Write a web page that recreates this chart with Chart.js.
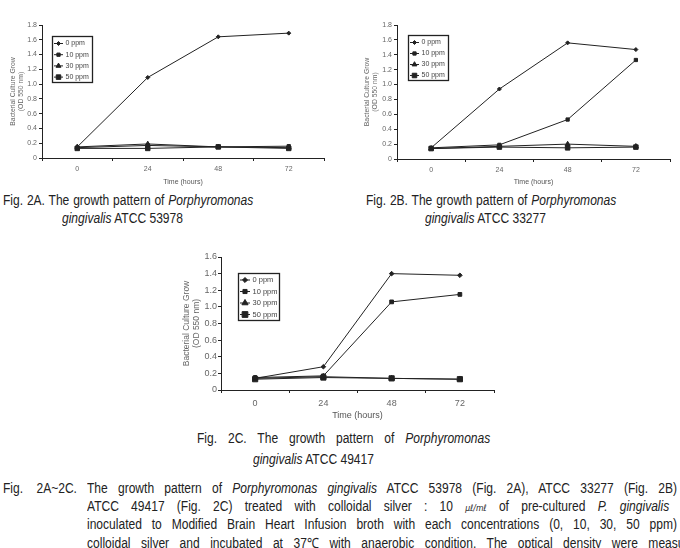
<!DOCTYPE html>
<html>
<head>
<meta charset="utf-8">
<script src="https://cdn.jsdelivr.net/npm/chart.js@4"></script>
<style>
  html, body { margin: 0; padding: 0; background: #fff; }
  body { width: 680px; height: 548px; overflow: hidden; position: relative; }
  canvas { position: absolute; }
  .cap { position: absolute; font-family: "Liberation Sans", sans-serif; font-size: 14px; color: #222;
         line-height: 18px; white-space: nowrap; transform: scaleX(0.86); transform-origin: 0 0; }
  .just { white-space: normal; text-align: justify; text-align-last: justify; height: 18px; }
  .unit { display: inline-block; font-family: "DejaVu Sans", sans-serif; font-size: 9px; font-style: italic; }
  .deg { display: inline-block; }
</style>
</head>
<body>
<canvas id="chartA" style="left:0;top:0"></canvas>
<canvas id="chartB" style="left:340px;top:0"></canvas>
<canvas id="chartC" style="left:170px;top:245px"></canvas>

<div class="cap just" style="left:3px;top:191px;width:291px">Fig. 2A. The growth pattern of <i>Porphyromonas</i></div>
<div class="cap" style="left:62px;top:209px"><i>gingivalis</i> ATCC 53978</div>

<div class="cap just" style="left:366px;top:191px;width:291px">Fig. 2B. The growth pattern of <i>Porphyromonas</i></div>
<div class="cap" style="left:425px;top:209px"><i>gingivalis</i> ATCC 33277</div>

<div class="cap just" style="left:197px;top:429px;width:341px">Fig. 2C. The growth pattern of <i>Porphyromonas</i></div>
<div class="cap" style="left:253px;top:450px"><i>gingivalis</i> ATCC 49417</div>

<div class="cap just" style="left:3px;top:479px;width:86px">Fig. 2A~2C.</div>
<div class="cap just" style="left:87px;top:479px;width:686px">The growth pattern of <i>Porphyromonas gingivalis</i> ATCC 53978 (Fig. 2A), ATCC 33277 (Fig. 2B)</div>
<div class="cap just" style="left:87px;top:497px;width:677px">ATCC 49417 (Fig. 2C) treated with colloidal silver : 10 <span class="unit">μℓ/mℓ</span> of pre-cultured <i>P. gingivalis</i></div>
<div class="cap just" style="left:87px;top:515px;width:686px">inoculated to Modified Brain Heart Infusion broth with each concentrations (0, 10, 30, 50 ppm)</div>
<div class="cap just" style="left:87px;top:534px;width:715px">colloidal silver and incubated at <span class="deg">37℃</span> with anaerobic condition. The optical density were measured</div>

<script>
// time points and series names
var hours = ['0', '24', '48', '72'];
var seriesNames = ['0 ppm', '10 ppm', '30 ppm', '50 ppm'];

// Fig. 2A - ATCC 53978
var a0 = [0.15, 1.09, 1.64, 1.69];
var a10 = [0.14, 0.17, 0.15, 0.16];
var a30 = [0.15, 0.19, 0.15, 0.14];
var a50 = [0.13, 0.13, 0.15, 0.13];

// Fig. 2B - ATCC 33277
var b0 = [0.15, 0.94, 1.56, 1.47];
var b10 = [0.15, 0.19, 0.53, 1.33];
var b30 = [0.14, 0.17, 0.20, 0.17];
var b50 = [0.14, 0.16, 0.15, 0.16];

// Fig. 2C - ATCC 49417
var c0 = [0.14, 0.28, 1.40, 1.38];
var c10 = [0.15, 0.17, 1.06, 1.15];
var c30 = [0.14, 0.16, 0.14, 0.13];
var c50 = [0.13, 0.15, 0.14, 0.13];

var yTitle = ['Bacterial Culture Grow', '(OD 550 nm)'];
var xTitle = 'Time (hours)';

var markers = [
  { style: 'rectRot', r: 2 },
  { style: 'rect', r: 2.3 },
  { style: 'triangle', r: 2.8 },
  { style: 'rect', r: 3.2 }
];

// legend drawn as a boxed key inside the plot, like the spreadsheet original
var boxLegend = {
  id: 'boxLegend',
  afterDraw: function (chart, args, o) {
    var ctx = chart.ctx, area = chart.chartArea;
    var x = Math.round(area.left + o.x), y = Math.round(area.top + o.y);
    ctx.save();
    ctx.fillStyle = '#fff';
    ctx.fillRect(x, y, o.w, o.h);
    ctx.strokeStyle = '#222';
    ctx.lineWidth = 1.3;
    ctx.strokeRect(x + 0.5, y + 0.5, o.w, o.h);
    ctx.lineWidth = 1;
    ctx.font = o.size + 'px "Liberation Sans", sans-serif';
    ctx.textBaseline = 'middle';
    chart.data.datasets.forEach(function (ds, i) {
      var cy = y + o.top + i * o.row;
      ctx.strokeStyle = '#222';
      ctx.beginPath();
      ctx.moveTo(x + 2, cy);
      ctx.lineTo(x + o.line, cy);
      ctx.stroke();
      ctx.fillStyle = '#222';
      Chart.helpers.drawPoint(ctx, {
        pointStyle: ds.pointStyle, radius: ds.pointRadius * o.scale, rotation: 0, borderWidth: 1
      }, x + 2 + (o.line - 2) / 2, cy);
      ctx.fillStyle = '#444';
      ctx.fillText(ds.label, x + o.text, cy);
    });
    ctx.restore();
  }
};

function makeSets(list, scale) {
  return list.map(function (vals, i) {
    return {
      label: seriesNames[i],
      data: vals,
      borderColor: '#222',
      backgroundColor: '#222',
      borderWidth: 1,
      pointStyle: markers[i].style,
      pointRadius: markers[i].r * scale,
      pointBorderWidth: 1,
      tension: 0
    };
  });
}

function makeChart(id, w, h, sets, cfg) {
  var el = document.getElementById(id);
  el.width = w; el.height = h;
  el.style.width = w + 'px'; el.style.height = h + 'px';
  return new Chart(el, {
    type: 'line',
    data: { labels: hours, datasets: sets },
    options: {
      responsive: false,
      animation: false,
      layout: { padding: cfg.pad },
      plugins: {
        legend: { display: false },
        tooltip: { enabled: false },
        boxLegend: cfg.legend
      },
      scales: {
        x: {
          offset: true,
          grid: { offset: true, drawOnChartArea: false, drawTicks: true, tickLength: 3, color: '#222' },
          border: { display: true, color: '#222', width: 1 },
          ticks: { color: '#666', padding: cfg.xPad, maxRotation: 0,
                   font: { family: 'Liberation Sans', size: cfg.tick } },
          title: { display: true, text: xTitle, color: '#555', padding: 0,
                   font: { family: 'Liberation Sans', size: cfg.title, lineHeight: 1.2 } },
          afterFit: function (s) { s.height = cfg.xH; }
        },
        y: {
          min: 0, max: cfg.yMax,
          grid: { drawOnChartArea: false, drawTicks: true, tickLength: 3, color: '#222' },
          border: { display: true, color: '#222', width: 1 },
          ticks: { stepSize: 0.2, color: '#666', padding: cfg.yPad,
                   font: { family: 'Liberation Sans', size: cfg.tick } },
          title: { display: true, text: yTitle, color: '#666', padding: 0,
                   font: { family: 'Liberation Sans', size: cfg.ytitle, lineHeight: 1.15 } },
          afterFit: function (s) { s.width = cfg.yW; }
        }
      }
    },
    plugins: [boxLegend]
  });
}

makeChart('chartA', 340, 186, makeSets([a0, a10, a30, a50], 1), {
  pad: { left: 9, right: 16, top: 25, bottom: 0 },
  yW: 33, xH: 28, yMax: 1.8, tick: 7, title: 7, ytitle: 6.8, xPad: 4, yPad: 2,
  legend: { x: 10, y: 11, w: 40, h: 46, top: 7.5, row: 11.2, line: 11, text: 13.5, size: 7, scale: 1 }
});

makeChart('chartB', 340, 186, makeSets([b0, b10, b30, b50], 1), {
  pad: { left: 23, right: 10, top: 25, bottom: 0 },
  yW: 34, xH: 27, yMax: 1.8, tick: 7, title: 7, ytitle: 6.8, xPad: 4, yPad: 2,
  legend: { x: 11, y: 10, w: 40, h: 45, top: 7.5, row: 11, line: 11, text: 13.5, size: 7, scale: 1 }
});

makeChart('chartC', 340, 176, makeSets([c0, c10, c30, c50], 1.15), {
  pad: { left: 12, right: 16, top: 12, bottom: 0 },
  yW: 39, xH: 31, yMax: 1.6, tick: 9, title: 9, ytitle: 8.5, xPad: 5, yPad: 1,
  legend: { x: 17, y: 16, w: 41, h: 47, top: 7, row: 11.5, line: 12, text: 14.5, size: 7.5, scale: 1.1 }
});
</script>
</body>
</html>
